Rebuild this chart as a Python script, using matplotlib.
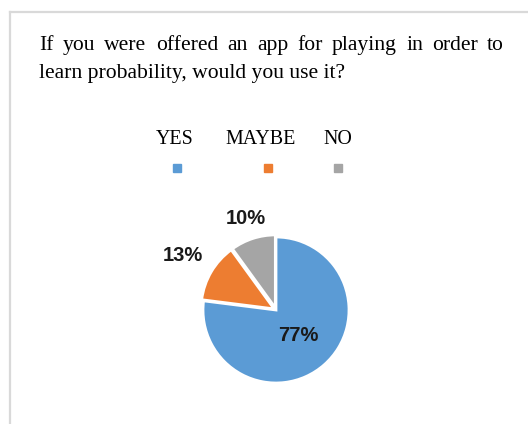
import matplotlib
matplotlib.use("Agg")
import numpy as np
import matplotlib.pyplot as plt
from matplotlib.lines import Line2D

# data
categories = ["YES", "MAYBE", "NO"]
values = [77, 13, 10]
colors = ["#5B9BD5", "#ED7D31", "#A5A5A5"]
title_lines = ["If you were offered an app for playing in order to",
               "learn probability, would you use it?"]

W, H = 528, 424
fig = plt.figure(figsize=(W / 100, H / 100), dpi=100)

# chart border (top and left edge visible)
fig.add_artist(Line2D([10 / W, 10 / W], [0, 1 - 12 / H], color="#d9d9d9", lw=1.6))
fig.add_artist(Line2D([10 / W, 1], [1 - 12 / H, 1 - 12 / H], color="#d9d9d9", lw=1.6))

serif = "Liberation Serif"
sans = "Liberation Sans"
tsize = 15.6

# title, first line justified
fig.canvas.draw()
r = fig.canvas.get_renderer()
x0, x1 = 39, 504
words = title_lines[0].split()
tmp = [fig.text(0, 0, w, fontsize=tsize, family=serif) for w in words]
widths = [t.get_window_extent(r).width for t in tmp]
for t in tmp:
    t.remove()
gap = (x1 - x0 - sum(widths)) / (len(words) - 1)
x = x0
for w, wd in zip(words, widths):
    fig.text(x / W, 1 - 50 / H, w, fontsize=tsize, family=serif, va="baseline")
    x += wd + gap
fig.text(x0 / W, 1 - 78 / H, title_lines[1], fontsize=tsize, family=serif, va="baseline")

# legend
leg_x = [175, 261, 338]
mk_x = [177, 268, 338]
for c, col, lx, mx in zip(categories, colors, leg_x, mk_x):
    fig.text(lx / W, 1 - 140 / H, c, fontsize=14.4, family=serif, ha="center", va="center")
    fig.add_artist(Line2D([mx / W], [1 - 168 / H], marker="s", markersize=6,
                          color=col, linestyle="none"))

# pie
cx, cy, rad = 276, 310, 73
half = 130
ax = fig.add_axes([(cx - half) / W, 1 - (cy + half) / H, 2 * half / W, 2 * half / H])
wedges, _ = ax.pie(values, colors=colors, startangle=90, counterclock=False,
                   explode=[0, 0.03, 0.03],
                   wedgeprops=dict(edgecolor="white", linewidth=2))
lim = half / rad
ax.set_xlim(-lim, lim)
ax.set_ylim(-lim, lim)
ax.set_aspect("equal")
ax.axis("off")

label_dist = [0.47, 1.48, 1.32]
for wdg, v, d in zip(wedges, values, label_dist):
    ang = np.deg2rad((wdg.theta1 + wdg.theta2) / 2)
    ax.text(d * np.cos(ang), d * np.sin(ang), f"{v}%", ha="center", va="center",
            fontsize=14.5, fontweight="bold", family=sans, color="#1a1a1a")

plt.savefig("out.png", dpi=100)
